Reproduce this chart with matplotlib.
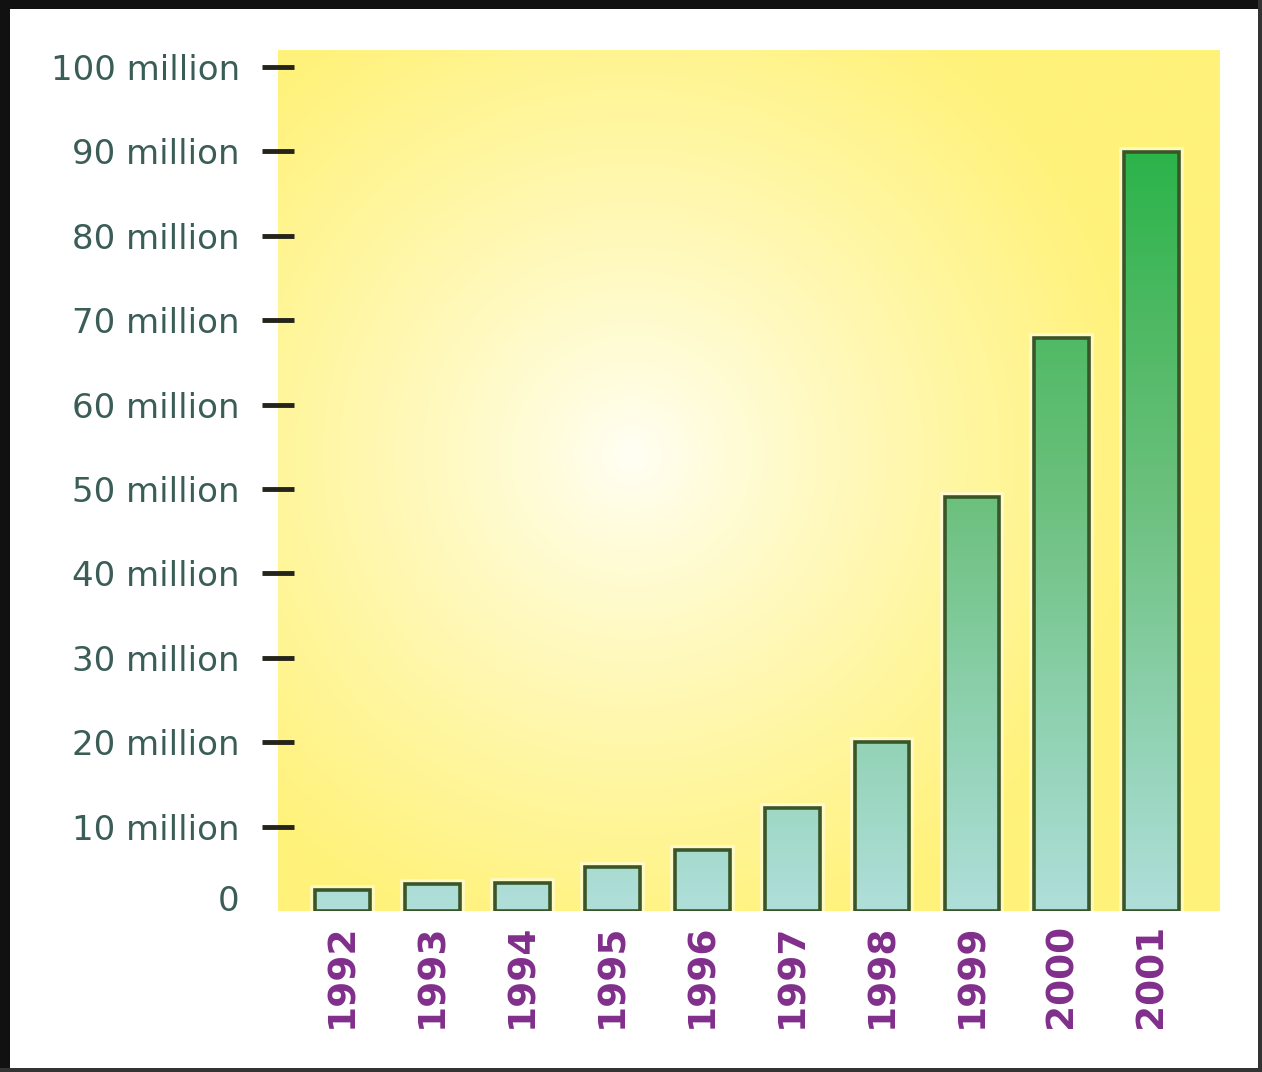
import numpy as np
import matplotlib
matplotlib.use("Agg")
import matplotlib.pyplot as plt
from matplotlib.colors import LinearSegmentedColormap, to_rgb
from matplotlib.patches import Rectangle
from matplotlib.ticker import FixedLocator
from matplotlib.transforms import ScaledTranslation

years = ['1992', '1993', '1994', '1995', '1996', '1997', '1998', '1999', '2000', '2001']
users_millions = [2.5, 3.2, 3.3, 5.2, 7.2, 12.2, 20.0, 49.0, 67.9, 89.9]
tick_values = [0, 10, 20, 30, 40, 50, 60, 70, 80, 90, 100]
tick_labels = ['0'] + [f'{v} million' for v in tick_values[1:]]

values = np.array(users_millions) * 1e6
x = np.arange(len(years))
bar_w = 0.61
ymax = 102e6

fig = plt.figure(figsize=(12.62, 10.72), dpi=100)
fig.patch.set_facecolor('white')
ax = fig.add_axes([278 / 1262, 1 - 911 / 1072, 942 / 1262, 861 / 1072])

# radial yellow background, white spot left of centre
ny, nx = 400, 440
gx, gy = np.meshgrid(np.linspace(-1, 1, nx), np.linspace(-1, 1, ny))
r = np.sqrt((gx + 0.25) ** 2 + ((gy - 0.06) * 0.92) ** 2)
t = np.clip(r / 1.1, 0, 1) ** 0.85
c_in = np.array(to_rgb('#fffff6'))
c_out = np.array(to_rgb('#fff27a'))
bg = c_in[None, None, :] * (1 - t[..., None]) + c_out[None, None, :] * t[..., None]
ax.imshow(bg, extent=[0, 1, 0, 1], transform=ax.transAxes, aspect='auto',
          zorder=0, interpolation='bilinear', origin='lower')

# bars with a value based green gradient
cmap = LinearSegmentedColormap.from_list('bars', [
    (0.0, '#b0dfda'), (0.22, '#93d3b6'), (0.55, '#6bc07c'),
    (0.78, '#4db963'), (1.0, '#2bb44a')])
grad = np.linspace(0, 1, 256).reshape(-1, 1)
for xi, v in zip(x, values):
    halo = Rectangle((xi - bar_w / 2, 0), bar_w, v, facecolor='none',
                     edgecolor='white', linewidth=7, alpha=0.5, zorder=2)
    ax.add_patch(halo)
    rect = Rectangle((xi - bar_w / 2, 0), bar_w, v, facecolor='none',
                     edgecolor='#3a5629', linewidth=2.6, zorder=4)
    ax.add_patch(rect)
    im = ax.imshow(grad, extent=[xi - bar_w / 2, xi + bar_w / 2, 0, 90e6],
                   origin='lower', cmap=cmap, aspect='auto', zorder=3)
    im.set_clip_path(rect)

ax.set_xlim(-0.72, 9.76)
ax.set_ylim(0, ymax)

for s in ax.spines.values():
    s.set_visible(False)

ax.set_xticks(x)
ax.set_xticklabels(years, rotation=90, fontsize=27, fontweight='bold',
                   color='#802f8a', family='DejaVu Sans')
ax.tick_params(axis='x', length=0, pad=9)

ax.yaxis.set_major_locator(FixedLocator([v * 1e6 for v in tick_values]))
ax.set_yticklabels(tick_labels, fontsize=24.5, color='#3b5d57')
ax.tick_params(axis='y', direction='inout', length=23, width=3.5,
               color='#24241a', pad=16)
zero_tick = ax.yaxis.get_major_ticks()[0]
zero_tick.tick1line.set_visible(False)
zero_tick.label1.set_transform(zero_tick.label1.get_transform()
                               + ScaledTranslation(0, 0.13, fig.dpi_scale_trans))

# outer frame of the picture
fig.add_artist(Rectangle((0, 0), 10 / 1262, 1, transform=fig.transFigure,
                         facecolor='#111111', edgecolor='none'))
fig.add_artist(Rectangle((0, 1 - 9 / 1072), 1, 9 / 1072, transform=fig.transFigure,
                         facecolor='#111111', edgecolor='none'))
fig.add_artist(Rectangle((1 - 4 / 1262, 0), 4 / 1262, 1, transform=fig.transFigure,
                         facecolor='#333333', edgecolor='none'))
fig.add_artist(Rectangle((0, 0), 1, 4 / 1072, transform=fig.transFigure,
                         facecolor='#333333', edgecolor='none'))

fig.savefig('out.png', dpi=100)
